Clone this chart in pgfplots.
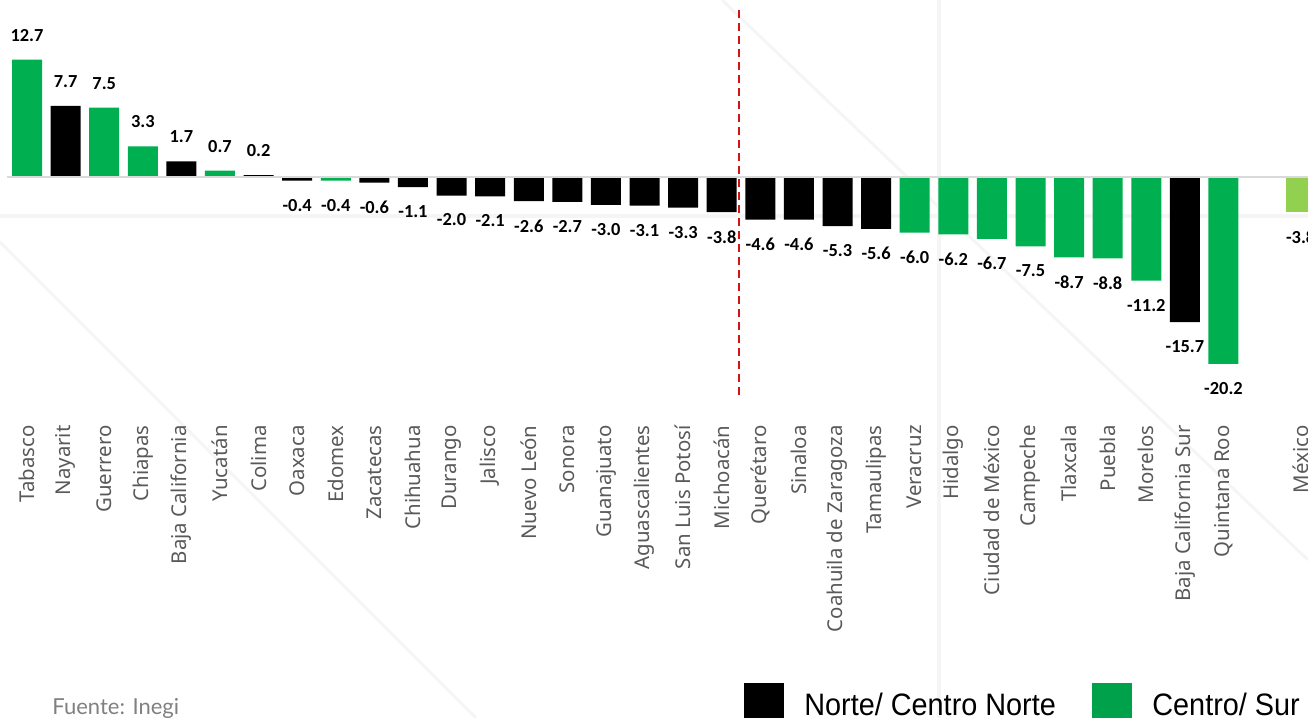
\documentclass[border=0pt]{standalone}
\usepackage{pgfplots}
\usepackage{pgfplotstable}
\pgfplotsset{compat=1.18}
\usepackage{fontspec}
\setmainfont{Noto Sans}
\newfontfamily\valfont{Carlito}
\newfontfamily\legfont{Liberation Sans}
\newfontfamily\srcfont{Lato}

\definecolor{verde}{HTML}{00B050}
\definecolor{verdeley}{HTML}{00A14B}
\definecolor{verdeclaro}{HTML}{92D050}
\definecolor{etiqueta}{HTML}{595959}
\definecolor{rojo}{HTML}{D41414}
\definecolor{marca}{HTML}{F5F5F5}

% Variación por entidad; x = posición de la barra
\pgfplotstableread{
x y
1 7.7
4 1.7
6 0.2
7 -0.4
9 -0.6
10 -1.1
11 -2.0
12 -2.1
13 -2.6
14 -2.7
15 -3.0
16 -3.1
17 -3.3
18 -3.8
19 -4.6
20 -4.6
21 -5.3
22 -5.6
30 -15.7
}\norte

\pgfplotstableread{
x y
0 12.7
2 7.5
3 3.3
5 0.7
8 -0.4
23 -6.0
24 -6.2
25 -6.7
26 -7.5
27 -8.7
28 -8.8
29 -11.2
31 -20.2
}\sur

\pgfplotstableread{
x y
33 -3.8
}\nacional

\begin{document}
\begin{tikzpicture}
\useasboundingbox (0,0) rectangle (654pt,359pt);
\clip (0,0) rectangle (654pt,359pt);

% faint background marks, in pixel coordinates from the top-left corner
\begin{scope}[x=0.5pt, y=-0.5pt, shift={(0,359pt)}]
  \draw[marca, line width=2pt] (0,216) -- (1308,216);
  \draw[marca, line width=2pt] (939,0) -- (939,718);
  \draw[marca, line width=1.5pt] (0,242) -- (476,718);
  \draw[marca, line width=1.5pt] (722,0) -- (1308,560);
\end{scope}

\begin{axis}[
  at={(0pt,159.5pt)}, anchor=south west,
  scale only axis, width=654pt, height=199.5pt,
  xmin=-0.70, xmax=33.19, ymin=-24, ymax=19.14,
  axis line style={draw=none},
  ytick=\empty,
  xtick={0,...,31,33},
  xticklabels={Tabasco,Nayarit,Guerrero,Chiapas,Baja California,Yucatán,Colima,Oaxaca,Edomex,Zacatecas,Chihuahua,Durango,Jalisco,Nuevo León,Sonora,Guanajuato,Aguascalientes,San Luis Potosí,Michoacán,Querétaro,Sinaloa,Coahuila de Zaragoza,Tamaulipas,Veracruz,Hidalgo,Ciudad de México,Campeche,Tlaxcala,Puebla,Morelos,Baja California Sur,Quintana Roo,México},
  major tick length=0pt,
  xticklabel shift=13pt,
  xticklabel style={rotate=90, anchor=east, inner sep=0pt,
    font=\fontsize{10.2pt}{12pt}\selectfont, text=etiqueta},
  ybar, bar width=15pt,
  nodes near coords={\pgfmathprintnumber[fixed,fixed zerofill,precision=1,assume math mode=true]{\pgfplotspointmeta}},
  nodes near coords align=vertical,
  every node near coord/.append style={font=\valfont\bfseries\fontsize{9.2pt}{11pt}\selectfont,
    text=black, inner xsep=0pt, inner ysep=9pt},
]
\addplot[fill=black, draw=none, bar shift=0pt] table[x=x,y=y]{\norte};
\addplot[fill=verde, draw=none, bar shift=0pt] table[x=x,y=y]{\sur};
\addplot[fill=verdeclaro, draw=none, bar shift=0pt] table[x=x,y=y]{\nacional};
\draw[color=black!15, line width=1pt] (axis cs:-0.52,0) -- (axis cs:33.19,0);
\draw[rojo, line width=1.2pt, dash pattern=on 4pt off 2.5pt]
  (axis cs:18.45,18.05) -- (axis cs:18.45,-23.57);
\end{axis}

\begin{scope}[x=0.5pt, y=-0.5pt, shift={(0,359pt)}]
  \node[anchor=base west, inner sep=0pt, text=black!50,
    font=\srcfont\fontsize{11pt}{13pt}\selectfont] at (52,715) {Fuente: Inegi};
  \fill[black] (744,683) rectangle (784,724);
  \node[anchor=base west, inner sep=0pt, xscale=0.93,
    font=\legfont\fontsize{15.5pt}{18pt}\selectfont] at (804,716) {Norte/ Centro Norte};
  \fill[verdeley] (1092,683) rectangle (1132,724);
  \node[anchor=base west, inner sep=0pt, xscale=0.93,
    font=\legfont\fontsize{15.5pt}{18pt}\selectfont] at (1152,716) {Centro/ Sur};
\end{scope}
\end{tikzpicture}
\end{document}
